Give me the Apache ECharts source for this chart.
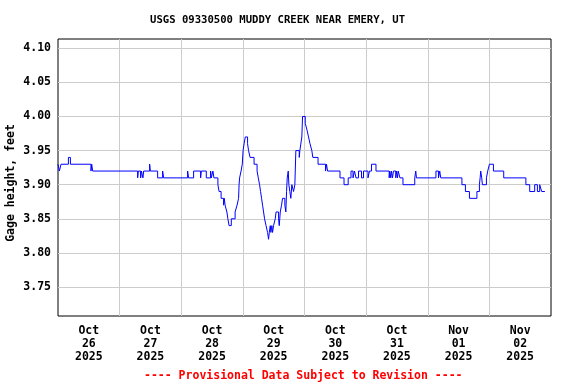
<!DOCTYPE html>
<html>
<head>
<meta charset="utf-8">
<script src="https://cdn.jsdelivr.net/npm/echarts@6/dist/echarts.min.js"></script>
<style>html,body{margin:0;padding:0;background:#fff;}#c{width:576px;height:384px;}</style>
</head>
<body>
<div id="c"></div>
<script>
// Hours since 2025-10-26 00:00 at which the reading changes, and the gage height from then on (feet)
const hours = [0.00,0.54,1.17,4.05,4.83,12.84,13.12,13.51,31.02,31.29,32.19,32.46,33.08,33.35,35.69,35.96,38.80,40.75,41.14,
  50.48,50.87,52.81,55.54,55.81,57.76,59.43,59.70,60.33,60.72,62.27,62.74,63.52,64.49,64.76,65.07,65.77,66.16,66.63,67.49,
  68.97,69.74,70.33,70.52,70.72,71.30,71.77,72.08,72.47,72.94,73.83,74.22,74.80,76.36,77.53,78.00,78.50,78.89,79.28,79.67,
  80.06,80.45,81.03,81.61,82.00,82.28,82.67,82.90,83.29,83.56,83.95,84.61,84.92,85.90,86.17,86.56,87.06,87.45,88.35,88.74,
  89.01,89.28,89.67,89.91,90.29,90.68,91.07,91.73,92.24,92.63,93.95,94.19,94.96,95.24,96.29,96.99,97.57,98.15,98.86,99.24,
  101.27,104.19,104.58,104.97,109.83,111.39,113.02,114.11,114.89,115.47,116.06,117.03,118.20,118.98,120.73,121.31,122.09,
  123.84,128.98,129.21,129.60,129.87,130.26,130.65,131.55,131.82,132.21,132.48,133.18,134.35,138.94,139.33,139.60,147.19,
  148.17,148.67,149.06,157.31,158.67,160.23,163.15,164.12,164.40,164.63,165.02,165.29,166.85,167.36,168.02,169.58,173.59,
  182.22,183.70,185.65,186.70,187.60,188.37,189.62];
const gage = [3.93,3.92,3.93,3.94,3.93,3.92,3.93,3.92,3.91,3.92,3.91,3.92,3.91,3.92,3.93,3.92,3.91,3.92,3.91,
  3.92,3.91,3.92,3.91,3.92,3.91,3.92,3.91,3.92,3.91,3.90,3.89,3.88,3.87,3.88,3.87,3.86,3.85,3.84,3.85,
  3.86,3.87,3.88,3.90,3.91,3.92,3.93,3.95,3.96,3.97,3.96,3.95,3.94,3.93,3.92,3.91,3.90,3.89,3.88,3.87,
  3.86,3.85,3.84,3.83,3.82,3.83,3.84,3.83,3.84,3.83,3.84,3.85,3.86,3.85,3.84,3.86,3.87,3.88,3.87,3.86,
  3.89,3.91,3.92,3.90,3.89,3.88,3.90,3.89,3.90,3.95,3.94,3.95,3.97,4.00,3.99,3.98,3.97,3.96,3.95,3.94,
  3.93,3.92,3.93,3.92,3.91,3.90,3.91,3.92,3.91,3.92,3.91,3.92,3.91,3.92,3.91,3.92,3.93,
  3.92,3.91,3.92,3.91,3.92,3.91,3.92,3.91,3.92,3.91,3.92,3.91,3.90,3.91,3.92,3.91,3.92,
  3.91,3.92,3.91,3.90,3.89,3.88,3.89,3.90,3.91,3.92,3.91,3.90,3.91,3.92,3.93,3.92,3.91,
  3.90,3.89,3.90,3.89,3.90,3.89,3.89];
// Day tick labels (placed at noon of each day)
const tickMonths = ['Oct','Oct','Oct','Oct','Oct','Oct','Nov','Nov'];
const tickDays = ['26','27','28','29','30','31','01','02'];
const tickYears = ['2025','2025','2025','2025','2025','2025','2025','2025'];
const titleText = 'USGS 09330500 MUDDY CREEK NEAR EMERY, UT';
const footerText = '---- Provisional Data Subject to Revision ----';
const yName = 'Gage height, feet';

const FONT = 'DejaVu Sans Mono';
const chart = echarts.init(document.getElementById('c'), null, {renderer: 'canvas'});
const seriesData = hours.map((h, i) => [h, gage[i]]);
chart.setOption({
  animation: false,
  backgroundColor: '#fff',
  title: [
    {text: titleText, left: 150, top: 15, padding: 0,
     textStyle: {fontFamily: FONT, fontWeight: 'bold', fontSize: 10.6, color: '#000'}},
    {text: footerText, left: 144, top: 370, padding: 0,
     textStyle: {fontFamily: FONT, fontWeight: 'bold', fontSize: 11.5, color: '#ff0000'}}
  ],
  grid: {left: 58, right: 25, top: 39, bottom: 68, containLabel: false, outerBoundsMode: 'none',
         show: true, borderColor: '#000', borderWidth: 1, backgroundColor: 'transparent'},
  xAxis: [
    {type: 'value', min: 0, max: 192, interval: 24,
     axisLine: {show: false}, axisTick: {show: false}, axisLabel: {show: false},
     splitLine: {show: true, showMinLine: false, showMaxLine: false, lineStyle: {color: '#cccccc', width: 1}}},
    {type: 'value', min: 0, max: 192, interval: 12, position: 'bottom',
     axisLine: {show: false}, axisTick: {show: false}, splitLine: {show: false},
     axisLabel: {show: true, margin: 9, lineHeight: 13, fontFamily: FONT, fontWeight: 'bold', fontSize: 11.5, color: '#000',
       showMinLabel: true, showMaxLabel: true,
       formatter: function (v) {
         const k = Math.round(v / 12);
         if (k % 2 === 1) { const d = (k - 1) / 2; return tickMonths[d] + '\n' + tickDays[d] + '\n' + tickYears[d]; }
         return '';
       }}}
  ],
  yAxis: {
    type: 'value', min: 3.7075, max: 4.1136, splitNumber: 8,
    name: yName, nameLocation: 'middle', nameRotate: 90, nameGap: 41, nameMoveOverlap: false,
    nameTextStyle: {fontFamily: FONT, fontWeight: 'bold', fontSize: 11.5, color: '#000', padding: [0, 11, 0, 0]},
    axisLine: {show: false}, axisTick: {show: false},
    axisLabel: {margin: 7, fontFamily: FONT, fontWeight: 'bold', fontSize: 11.5, color: '#000',
      showMinLabel: false, showMaxLabel: false,
      formatter: function (v) {
        const r = Math.round(v * 100);
        if (Math.abs(v * 100 - r) > 1e-6 || r % 5 !== 0) return '';
        return v.toFixed(2);
      }},
    splitLine: {show: true, showMinLine: false, showMaxLine: false, lineStyle: {color: '#cccccc', width: 1}}
  },
  series: [{
    type: 'line', xAxisIndex: 0, step: 'end', showSymbol: false, symbol: 'none',
    lineStyle: {color: '#0000ff', width: 1}, data: seriesData
  }]
});
</script>
</body>
</html>
